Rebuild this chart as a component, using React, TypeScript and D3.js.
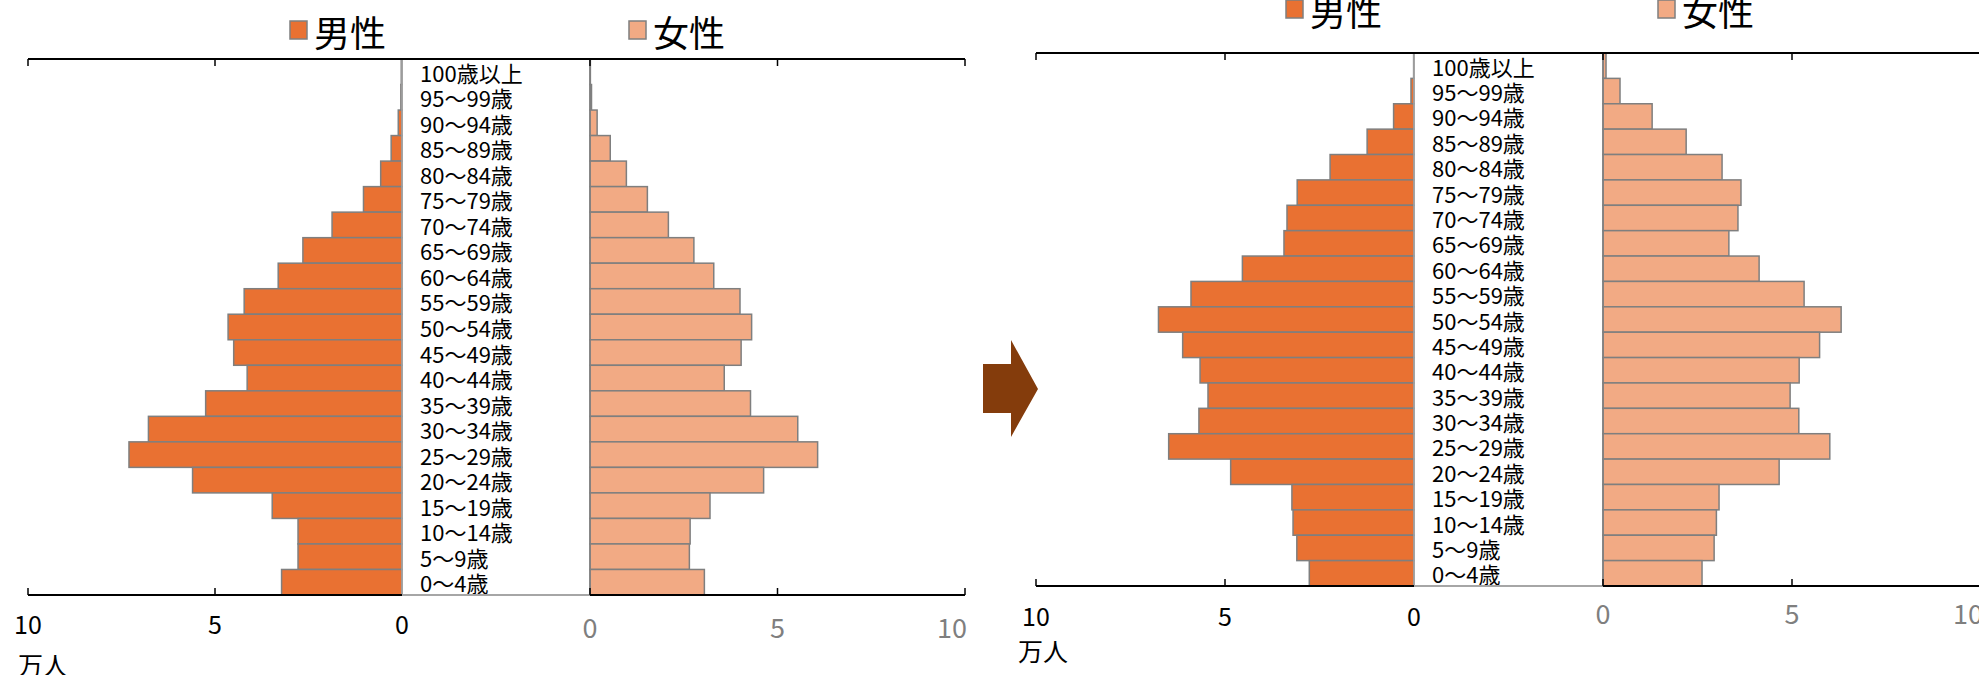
import React from 'react';
import * as d3 from 'd3';

// age groups, top to bottom
const ages = [
  '100歳以上', '95～99歳', '90～94歳', '85～89歳', '80～84歳', '75～79歳', '70～74歳',
  '65～69歳', '60～64歳', '55～59歳', '50～54歳', '45～49歳', '40～44歳', '35～39歳',
  '30～34歳', '25～29歳', '20～24歳', '15～19歳', '10～14歳', '5～9歳', '0～4歳',
];

// 万人
const maleBefore = [0.02, 0.03, 0.1, 0.29, 0.57, 1.03, 1.87, 2.65, 3.31, 4.22, 4.65, 4.5, 4.14, 5.25, 6.78, 7.3, 5.6, 3.47, 2.78, 2.78, 3.22];
const femaleBefore = [0.01, 0.04, 0.19, 0.54, 0.97, 1.53, 2.09, 2.77, 3.3, 4.0, 4.31, 4.03, 3.58, 4.28, 5.54, 6.07, 4.63, 3.2, 2.67, 2.65, 3.05];
const maleAfter = [0.01, 0.08, 0.54, 1.24, 2.22, 3.09, 3.36, 3.44, 4.54, 5.9, 6.76, 6.12, 5.66, 5.45, 5.69, 6.49, 4.85, 3.23, 3.2, 3.1, 2.77];
const femaleAfter = [0.08, 0.45, 1.3, 2.2, 3.15, 3.65, 3.57, 3.33, 4.13, 5.32, 6.3, 5.73, 5.19, 4.95, 5.18, 6.0, 4.66, 3.07, 3.0, 2.94, 2.62];

const tickValues = [0, 5, 10];
const legendLabels = ['男性', '女性'];
const unitLabel = '万人';

const MALE = '#E97132';
const FEMALE = '#F2AA84';
const EDGE = '#7F7F7F';
const FONT = '"Noto Sans CJK JP", "Noto Sans", sans-serif';

type Layout = {
  male0: number;
  male10: number;
  female0: number;
  female10: number;
  top: number;
  bottom: number;
  maleTickDy: number;
  femaleTickDy: number;
  unitX: number;
  unitDy: number;
  legendY: number;
  legendMaleX: number;
  legendFemaleX: number;
};

const Pyramid = ({ male, female, L }: { male: number[]; female: number[]; L: Layout }) => {
  const xm = d3.scaleLinear().domain([0, 10]).range([L.male0, L.male10]);
  const xf = d3.scaleLinear().domain([0, 10]).range([L.female0, L.female10]);
  const y = d3.scaleBand().domain(ages).range([L.top, L.bottom]).padding(0);
  const lastTick = tickValues[tickValues.length - 1];

  return (
    <g>
      {/* bars */}
      {ages.map((a, i) => (
        <g key={a}>
          <rect
            x={xm(male[i])}
            y={y(a)}
            width={xm(0) - xm(male[i])}
            height={y.bandwidth()}
            fill={MALE}
            stroke={EDGE}
            strokeWidth={1.5}
          />
          <rect
            x={xf(0)}
            y={y(a)}
            width={xf(female[i]) - xf(0)}
            height={y.bandwidth()}
            fill={FEMALE}
            stroke={EDGE}
            strokeWidth={1.5}
          />
          <text
            x={xm(0) + 18}
            y={(y(a) || 0) + y.bandwidth() / 2}
            dominantBaseline="central"
            fontSize={22}
            fontFamily={FONT}
            fill="#000"
          >
            {a}
          </text>
        </g>
      ))}

      {/* category axis lines */}
      <line x1={xm(0)} x2={xm(0)} y1={L.top} y2={L.bottom} stroke="#A6A6A6" strokeWidth={1.5} />
      <line x1={xf(0)} x2={xf(0)} y1={L.top} y2={L.bottom} stroke={EDGE} strokeWidth={1.5} />

      {/* top axis */}
      <line x1={xm(10)} x2={xf(10)} y1={L.top} y2={L.top} stroke="#000" strokeWidth={2} />
      {/* bottom axis */}
      <line x1={xm(10)} x2={xm(0)} y1={L.bottom} y2={L.bottom} stroke="#000" strokeWidth={2} />
      <line x1={xm(0)} x2={xf(0)} y1={L.bottom} y2={L.bottom} stroke="#A6A6A6" strokeWidth={2} />
      <line x1={xf(0)} x2={xf(10)} y1={L.bottom} y2={L.bottom} stroke="#000" strokeWidth={2} />

      {tickValues.map((t) => (
        <g key={t}>
          {t > 0 && (
            <>
              <line x1={xm(t)} x2={xm(t)} y1={L.top} y2={L.top + 7} stroke="#000" strokeWidth={1.5} />
              <line x1={xm(t)} x2={xm(t)} y1={L.bottom} y2={L.bottom - 7} stroke="#000" strokeWidth={1.5} />
            </>
          )}
          <line x1={xf(t)} x2={xf(t)} y1={L.top} y2={L.top + 7} stroke="#000" strokeWidth={1.5} />
          <line x1={xf(t)} x2={xf(t)} y1={L.bottom} y2={L.bottom - 7} stroke="#000" strokeWidth={1.5} />
          <text
            x={xm(t)}
            y={L.bottom + L.maleTickDy}
            textAnchor="middle"
            dominantBaseline="central"
            fontSize={25}
            fontFamily={FONT}
            fill="#000"
          >
            {t}
          </text>
          {/* the outermost label is pulled inside the plot edge */}
          <text
            x={t === lastTick ? xf(t) + 2 : xf(t)}
            y={L.bottom + L.femaleTickDy}
            textAnchor={t === lastTick ? 'end' : 'middle'}
            dominantBaseline="central"
            fontSize={27}
            fontFamily={FONT}
            fill="#7F7F7F"
          >
            {t}
          </text>
        </g>
      ))}
      <text
        x={L.unitX}
        y={L.bottom + L.unitDy}
        dominantBaseline="central"
        fontSize={25}
        fontFamily={FONT}
        fill="#000"
      >
        {unitLabel}
      </text>

      {/* legend */}
      {[L.legendMaleX, L.legendFemaleX].map((lx, i) => (
        <g key={legendLabels[i]}>
          <rect
            x={lx}
            y={L.legendY - 9}
            width={17}
            height={18}
            fill={i === 0 ? MALE : FEMALE}
            stroke={EDGE}
            strokeWidth={1.5}
          />
          <text
            x={lx + 24}
            y={L.legendY + 1}
            dominantBaseline="central"
            fontSize={36}
            fontFamily={FONT}
            fill="#000"
          >
            {legendLabels[i]}
          </text>
        </g>
      ))}
    </g>
  );
};

const before: Layout = {
  male0: 402, male10: 28, female0: 590, female10: 965, top: 59, bottom: 595,
  maleTickDy: 28, femaleTickDy: 31, unitX: 18, unitDy: 69,
  legendY: 30, legendMaleX: 290, legendFemaleX: 629,
};

const after: Layout = {
  male0: 1414, male10: 1036, female0: 1603, female10: 1981, top: 53, bottom: 586,
  maleTickDy: 29, femaleTickDy: 26, unitX: 1018, unitDy: 64,
  legendY: 9, legendMaleX: 1286, legendFemaleX: 1658,
};

const App = () => {
  const width = 1979;
  const height = 675;
  const arrow = 'M983,364 L1011,364 L1011,340 L1038,389 L1011,437 L1011,413 L983,413 Z';

  return (
    <svg
      width={width}
      height={height}
      style={{ position: 'absolute', left: 0, top: 0, background: '#fff' }}
    >
      <rect width={width} height={height} fill="#fff" />
      <Pyramid male={maleBefore} female={femaleBefore} L={before} />
      <path d={arrow} fill="#843C0C" />
      <Pyramid male={maleAfter} female={femaleAfter} L={after} />
    </svg>
  );
};

export default App;
